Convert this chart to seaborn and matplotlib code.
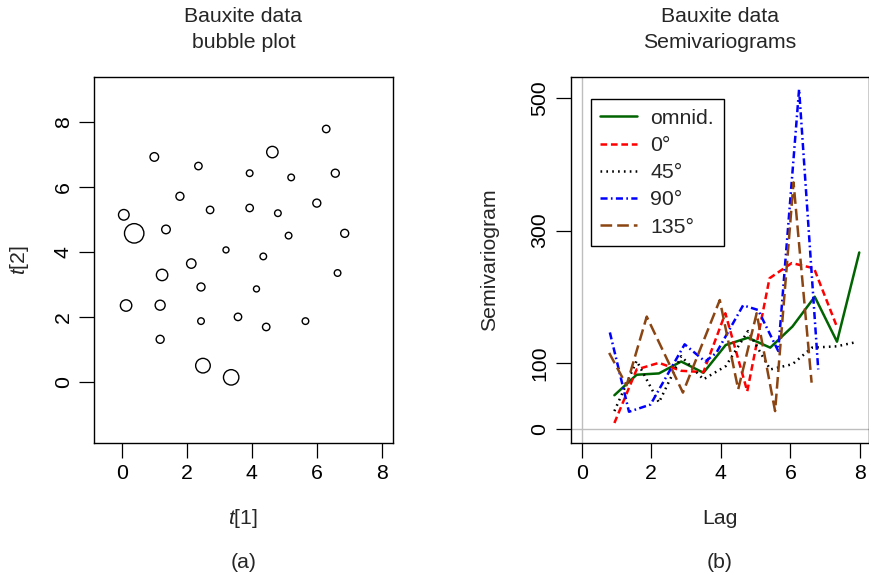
import matplotlib
matplotlib.use("Agg")
import matplotlib.pyplot as plt
from matplotlib.lines import Line2D
import numpy as np
import pandas as pd
import seaborn as sns

# ---------------- bubble plot data (sample locations and circle radius) ----------------
t1 = [6.29, 4.63, 0.99, 2.35, 3.93, 5.21, 6.57, 1.78, 2.71, 3.93, 4.80, 6.00,
      0.05, 0.37, 1.35, 5.13, 6.86, 3.20, 4.35, 2.13, 1.23, 6.64, 2.43, 4.14,
      0.12, 1.17, 2.43, 3.57, 4.44, 5.65, 1.17, 2.49, 3.36]
t2 = [7.79, 7.08, 6.93, 6.65, 6.43, 6.30, 6.43, 5.72, 5.30, 5.36, 5.20, 5.51,
      5.15, 4.58, 4.70, 4.51, 4.58, 4.07, 3.87, 3.65, 3.30, 3.36, 2.93, 2.87,
      2.36, 2.37, 1.88, 2.01, 1.70, 1.88, 1.32, 0.51, 0.15]
radius = [3.7, 5.7, 4.3, 3.7, 3.3, 3.3, 4.0, 4.0, 3.7, 3.7, 3.3, 4.0,
          5.3, 9.7, 4.3, 3.3, 4.0, 3.0, 3.3, 4.7, 5.7, 3.3, 4.0, 3.0,
          5.7, 5.0, 3.3, 3.7, 3.7, 3.3, 4.0, 7.3, 7.7]

# ---------------- empirical semivariograms ----------------
directions = ["omnid.", "0°", "45°", "90°", "135°"]
lag_omni = [0.94, 1.58, 2.22, 2.86, 3.50, 4.14, 4.78, 5.42, 6.06, 6.70, 7.34, 7.98]
gam_omni = [51, 82, 84, 102, 85, 127, 138, 123, 155, 200, 132, 267]
lag_0 = [0.94, 1.58, 2.22, 2.86, 3.50, 4.13, 4.76, 5.40, 6.04, 6.68, 7.32]
gam_0 = [9, 90, 100, 88, 86, 175, 57, 228, 251, 243, 157]
lag_45 = [0.94, 1.58, 2.22, 2.86, 3.50, 4.14, 4.78, 5.42, 6.06, 6.62, 7.33, 7.86]
gam_45 = [27, 103, 40, 110, 75, 95, 148, 90, 98, 123, 125, 131]
lag_90 = [0.81, 1.36, 1.98, 2.96, 3.55, 3.87, 4.64, 5.07, 5.65, 6.25, 6.80]
gam_90 = [146, 26, 37, 128, 102, 115, 187, 180, 118, 514, 90]
lag_135 = [0.79, 1.29, 1.87, 2.91, 3.97, 4.50, 5.03, 5.56, 6.09, 6.61]
gam_135 = [115, 66, 170, 55, 195, 60, 175, 27, 373, 70]

colors = {"omnid.": "#006400", "0°": "#FF0000", "45°": "#000000",
          "90°": "#0000FF", "135°": "#8B4513"}
# dash patterns in multiples of the line width
LW = 1.8
dash_map = {"omnid.": "", "0°": (2.67, 1.5), "45°": (0.67, 1.67),
            "90°": (2.83, 1.33, 0.67, 1.33), "135°": (4.67, 2.0)}

sns.set_style("ticks")
FS = 15.3
plt.rcParams["font.family"] = ["Liberation Sans", "DejaVu Sans"]
plt.rcParams["mathtext.fontset"] = "custom"
plt.rcParams["mathtext.rm"] = "Liberation Sans"
plt.rcParams["mathtext.it"] = "Liberation Sans:italic"
plt.rcParams["font.size"] = FS

W, H = 870, 578
fig = plt.figure(figsize=(W / 100, H / 100), dpi=100)

AX_TOP, AX_BOT = 77.3, 442.7
AX_H = AX_BOT - AX_TOP


def px_axes(x0, x1):
    return fig.add_axes([x0 / W, 1 - AX_BOT / H, (x1 - x0) / W, AX_H / H])


def title_lines(ax, lines):
    # two centred title lines above the panel
    for text, ypx in zip(lines, (16.0, 42.7)):
        ax.text(0.5, (AX_BOT - ypx) / AX_H, text, transform=ax.transAxes,
                ha="center", va="center", fontsize=FS)


ax1 = px_axes(94.3, 392.7)
ax2 = px_axes(570.7, 869.0)

# ---------------- (a) bubble plot ----------------
sizes = [(2 * r * 0.72) ** 2 for r in radius]
sns.scatterplot(x=t1, y=t2, s=sizes, facecolor="none", edgecolor="black",
                linewidth=1.0, ax=ax1, legend=False)
ax1.collections[-1].set_facecolor("none")
ax1.set_xlim(-0.86, 8.34)
ax1.set_ylim(-1.86, 9.38)
ax1.set_xticks([0, 2, 4, 6, 8])
ax1.set_yticks([0, 2, 4, 6, 8])
title_lines(ax1, ["Bauxite data", "bubble plot"])
ax1.set_xlabel(r"$t$[1]", fontsize=FS, va="center")
ax1.xaxis.set_label_coords(0.5, (AX_BOT - 518) / AX_H)
ax1.set_ylabel(r"$t$[2]", fontsize=FS, va="center")
ax1.yaxis.set_label_coords((20 - 94.3) / 298.4, 0.5)

# ---------------- (b) semivariograms ----------------
frames = []
for name, lags, gam in [("omnid.", lag_omni, gam_omni), ("0°", lag_0, gam_0),
                        ("45°", lag_45, gam_45), ("90°", lag_90, gam_90),
                        ("135°", lag_135, gam_135)]:
    frames.append(pd.DataFrame({"Lag": lags, "Semivariogram": gam,
                                "direction": name}))
df = pd.concat(frames, ignore_index=True)

ax2.axvline(0, color="#BEBEBE", lw=1.0, zorder=0)
ax2.axhline(0, color="#BEBEBE", lw=1.0, zorder=0)
sns.lineplot(data=df, x="Lag", y="Semivariogram", hue="direction",
             style="direction", hue_order=directions, style_order=directions,
             palette=colors, dashes=dash_map, linewidth=LW, estimator=None,
             sort=False, legend=False, ax=ax2)
ax2.set_xlim(-0.316, 8.26)
ax2.set_ylim(-20.8, 532)
ax2.set_xticks([0, 2, 4, 6, 8])
ax2.set_yticks([0, 100, 300, 500])
title_lines(ax2, ["Bauxite data", "Semivariograms"])
ax2.set_xlabel("Lag", fontsize=FS, va="center")
ax2.xaxis.set_label_coords(0.5, (AX_BOT - 518) / AX_H)
ax2.set_ylabel("Semivariogram", fontsize=FS, va="center")
ax2.yaxis.set_label_coords((490 - 570.7) / 298.3, 0.5)

handles = []
for name in directions:
    h = Line2D([], [], color=colors[name], lw=LW)
    if dash_map[name]:
        h.set_dashes(dash_map[name])
    handles.append(h)
leg = ax2.legend(handles, directions, loc="upper left",
                 bbox_to_anchor=((590.7 - 570.7) / 298.3, (AX_BOT - 99.3) / AX_H),
                 borderaxespad=0, fancybox=False, framealpha=1, edgecolor="black",
                 fontsize=FS, handlelength=1.73, handletextpad=0.63,
                 labelspacing=0.385, borderpad=0.45)
leg.get_frame().set_linewidth(1.0)

for ax in (ax1, ax2):
    for sp in ax.spines.values():
        sp.set_visible(True)
        sp.set_linewidth(1.0)
        sp.set_color("black")
    ax.tick_params(axis="both", direction="out", length=10.5, width=0.9,
                   colors="black", labelsize=FS, pad=5)
    ax.tick_params(axis="y", labelrotation=90)
    for lab in ax.get_yticklabels():
        lab.set_va("center")

fig.text(243.5 / W, 1 - 563 / H, "(a)", ha="center", va="center", fontsize=FS)
fig.text(719.8 / W, 1 - 563 / H, "(b)", ha="center", va="center", fontsize=FS)

fig.savefig("out.png", dpi=100)
